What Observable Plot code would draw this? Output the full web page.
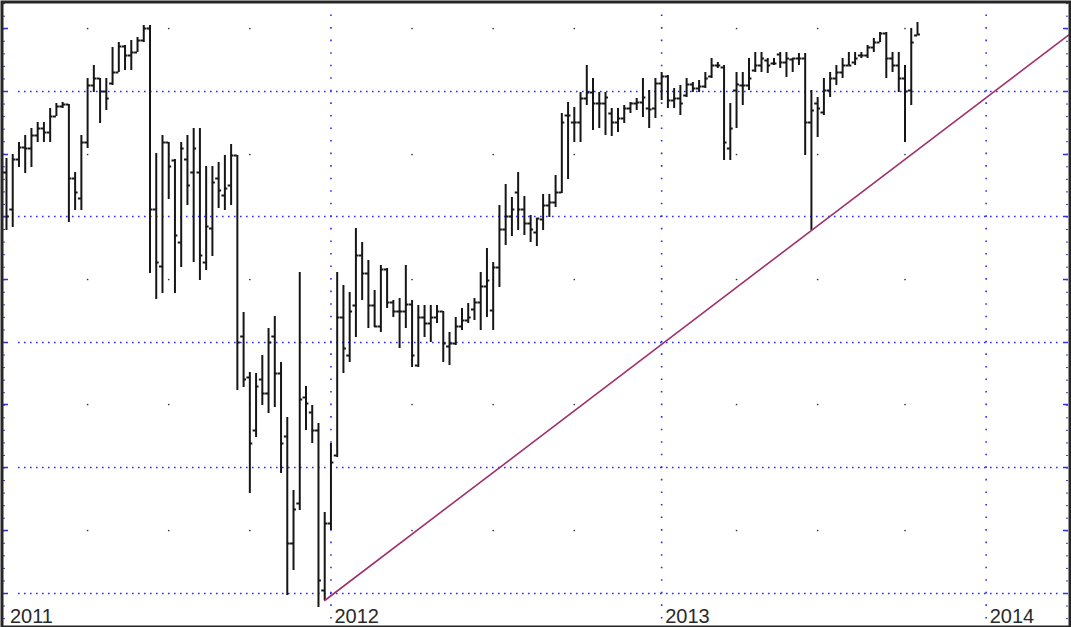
<!DOCTYPE html>
<html><head><meta charset="utf-8">
<script src="https://cdn.jsdelivr.net/npm/d3@7"></script>
<script src="https://cdn.jsdelivr.net/npm/@observablehq/plot@0.6"></script>
<style>html,body{margin:0;padding:0;background:#fff;}#chart svg{display:block}</style>
</head><body><div id="chart"></div>
<script>
// Weekly OHLC bars (unlabelled price units)
const firstWeek = "2011-01-03";
const open = [921,884,934,946,945,958,965,961,977,987,
989,915,895,951,1008,1015,1002,1010,1021,1047,
1038,1041,1053,1065,884,827,951,933,851,934,
921,921,831,865,915,898,908,938,757,716,
663,714,700,757,720,657,550,590,696,681,
663,503,570,638,776,738,788,838,820,788,
767,824,791,782,782,789,728,776,770,776,
782,747,750,767,773,784,791,807,783,826,
864,877,901,884,870,861,874,888,891,901,
978,971,971,995,1001,990,990,980,971,975,
985,990,991,985,985,1010,1017,993,995,998,
1009,1005,1007,1017,1028,1026,945,1003,1008,1008,
1023,1028,1033,1030,1039,1031,1034,1035,1035,971,
990,981,1003,1015,1021,1028,1031,1038,1038,1046,
1051,1060,1035,1028,1015,1003,1058];
const high = [935,939,951,958,965,971,971,985,990,991,
989,921,958,1015,1028,1015,1015,1046,1051,1048,
1053,1056,1068,1068,940,958,951,934,951,958,
965,965,927,927,931,938,949,938,781,721,
720,738,765,777,731,676,603,821,707,688,
670,581,650,821,808,801,865,851,833,803,
828,825,793,795,828,793,788,788,788,788,
782,761,776,785,790,795,821,845,831,888,
909,896,921,897,878,875,899,899,918,980,
991,986,1001,1028,1015,1001,1001,985,985,988,
991,995,1015,1003,1015,1021,1018,1005,1008,1015,
1011,1013,1021,1035,1031,1028,990,1021,1021,1035,
1041,1041,1035,1035,1041,1041,1035,1040,1040,1003,
996,1015,1021,1028,1035,1041,1041,1041,1048,1055,
1061,1061,1041,1041,1028,1065,1071];
const low = [863,866,926,920,926,951,951,951,977,985,
871,883,883,945,1001,970,983,1008,1021,1023,
1023,1041,1051,820,794,800,894,800,826,888,
831,813,823,837,885,883,888,703,706,600,
656,688,680,686,620,498,523,583,663,650,
486,493,563,636,720,731,756,793,765,766,
761,785,776,745,765,726,726,756,751,770,
731,728,748,763,770,773,763,776,763,806,
848,857,863,858,851,847,863,876,886,900,
914,951,951,988,963,965,958,957,961,970,
980,983,976,965,975,993,985,985,978,996,
1001,1001,1005,1015,1025,933,933,965,988,1003,
1021,1021,1020,1028,1025,1016,1021,1028,938,863,
956,978,996,1008,1015,1028,1028,1035,1035,1041,
1051,1015,1021,1001,951,988,1058];
const close = [877,934,946,945,958,965,961,977,987,989,
915,901,951,1008,1015,1002,995,1021,1047,1038,
1041,1053,1065,884,831,951,927,858,945,908,
945,838,867,911,903,905,938,751,714,650,
707,700,751,720,650,550,584,694,690,663,
513,570,631,776,745,782,838,820,788,767,
824,791,782,782,789,738,776,770,776,782,
750,750,767,773,776,791,807,813,826,864,
877,884,884,870,864,875,888,891,901,971,
978,971,995,1001,990,990,996,971,975,985,
990,991,996,984,1010,1017,993,995,990,1009,
1005,1007,1015,1028,1028,951,965,1009,1008,1015,
1028,1035,1028,1030,1031,1035,1035,1035,971,983,
985,1003,1015,1021,1028,1028,1035,1038,1046,1051,
1060,1035,1028,1015,1002,1051,1059];

// Trend line: drawn through the lows of these two weeks, extended to the right edge
const trendAnchorWeeks = [51, 129];

// Axis / grid
const yearLabels = ["2011", "2012", "2013", "2014"];
const yearStarts = ["2011-01-03", "2012-01-02", "2013-01-07", "2014-01-06"];
const quarterStarts = ["2011-04-04","2011-07-04","2011-10-03","2012-04-02","2012-07-02","2012-10-01","2013-04-01","2013-07-01","2013-10-07"];
const majorLevels = [500, 626, 751, 877, 1002];
const minorLevels = [563, 689, 814, 939, 1065];

const xDomain = [new Date("2010-12-30T15:40Z"), new Date("2014-04-08T09:40Z")];
const yDomain = [468, 1090];

const DAY = 864e5;
const weeks = open.map((o, i) => ({
  date: new Date(+new Date(firstWeek) + 7 * i * DAY),
  open: o, high: high[i], low: low[i], close: close[i]
}));

const a = weeks[trendAnchorWeeks[0]], b = weeks[trendAnchorWeeks[1]];
const slope = (b.low - a.low) / (b.date - a.date);
const trend = [
  {date: a.date, value: a.low},
  {date: xDomain[1], value: a.low + slope * (xDomain[1] - a.date)}
];

const years = yearStarts.map((d, i) => ({date: new Date(d), label: yearLabels[i]}));
const quarterDots = quarterStarts.flatMap(q => minorLevels.map(v => ({date: new Date(q), value: v})));
const edgeLevels = majorLevels.concat(minorLevels);
const majorStep = (majorLevels[majorLevels.length - 1] - majorLevels[0]) / (majorLevels.length - 1);
const rulerLevels = d3.range(-3, 48).map(k => majorLevels[0] + k * majorStep / 10)
  .filter(v => v > yDomain[0] && v < yDomain[1]);

const W = 1071, H = 627;
const innerW = W - 6;
const blue = "#2a2aff";
const TICK = 3.3 * DAY;

const chart = Plot.plot({
  width: W, height: H,
  marginLeft: 3, marginRight: 3, marginTop: 3, marginBottom: 2,
  style: {background: "#fff", fontFamily: "'Liberation Sans', Arial, sans-serif"},
  x: {type: "utc", domain: xDomain, axis: null},
  y: {domain: yDomain, axis: null},
  marks: [
    // dotted horizontal grid
    Plot.ruleY(majorLevels, {stroke: blue, strokeWidth: 1.6, strokeDasharray: "1.6 4.4", insetLeft: 15, insetRight: 10}),
    // dotted vertical year lines
    Plot.ruleX(years.filter(d => d.label !== "2011"), {x: "date", stroke: blue, strokeWidth: 1.6, strokeDasharray: "1.6 10.95", insetTop: 11.5}),
    // quarter dots
    Plot.dot(quarterDots, {x: "date", y: "value", r: 0.85, fill: "#333", stroke: null}),
    // edge ticks
    Plot.ruleY(edgeLevels, {stroke: blue, strokeWidth: 1.5, insetRight: innerW - 5}),
    Plot.ruleY(edgeLevels, {stroke: blue, strokeWidth: 1.5, insetLeft: innerW - 5}),
    Plot.ruleY(rulerLevels, {stroke: "#3b3bc8", strokeWidth: 1, insetRight: innerW - 2}),
    Plot.ruleY(rulerLevels, {stroke: "#3b3bc8", strokeWidth: 1, insetLeft: innerW - 2}),
    // OHLC bars
    Plot.ruleX(weeks, {x: "date", y1: "low", y2: "high", stroke: "#161616", strokeWidth: 2}),
    Plot.ruleY(weeks, {y: "open", x1: d => new Date(+d.date - TICK), x2: "date", stroke: "#161616", strokeWidth: 2}),
    Plot.ruleY(weeks, {y: "close", x1: "date", x2: d => new Date(+d.date + TICK), stroke: "#161616", strokeWidth: 2}),
    // trend line
    Plot.line(trend, {x: "date", y: "value", stroke: "#a0306e", strokeWidth: 1.6}),
    // year labels
    Plot.text(years, {x: "date", text: "label", frameAnchor: "bottom", lineAnchor: "bottom", textAnchor: "start",
      dx: 3.5, dy: -3, fontSize: 20, fill: "#2a2a2a", fontFamily: "'Liberation Sans', Arial, sans-serif"}),
    // frame
    Plot.frame({stroke: "#262626", strokeWidth: 3, inset: -1.5})
  ]
});
document.getElementById("chart").appendChild(chart);
</script>
</body></html>
